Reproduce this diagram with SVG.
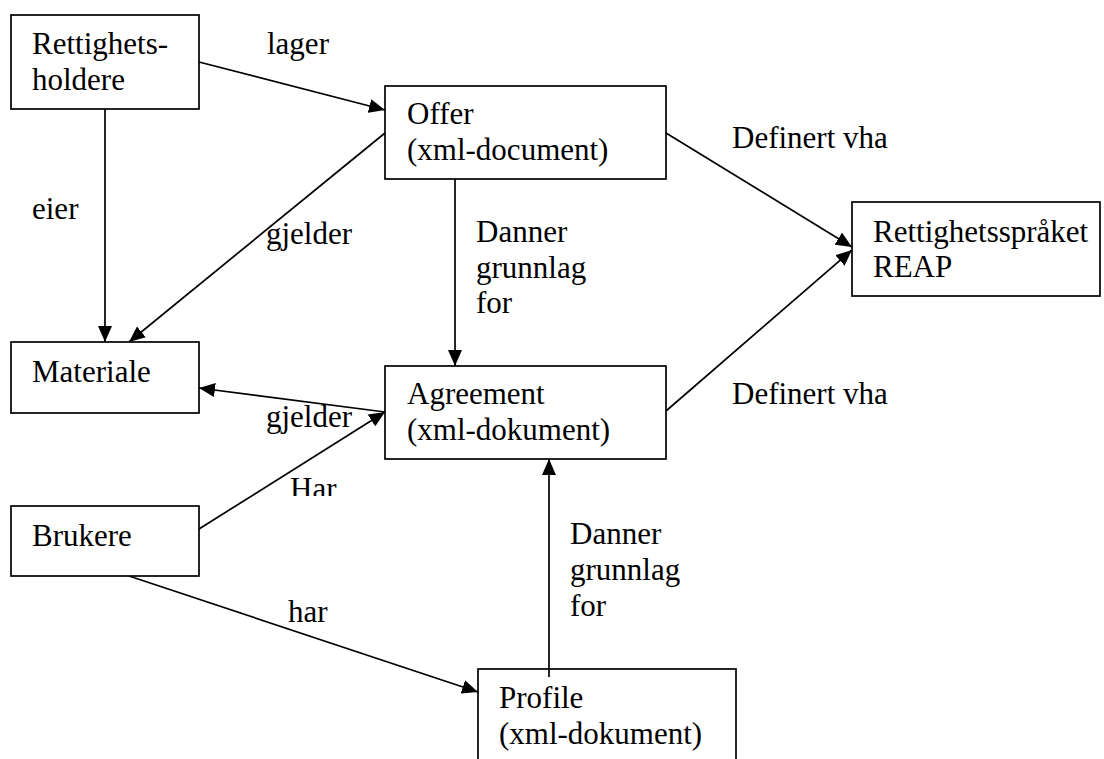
<svg xmlns="http://www.w3.org/2000/svg" width="1104" height="759" viewBox="0 0 1104 759" font-family="'Liberation Serif', 'Times New Roman', Tinos, 'DejaVu Serif', serif">
  <style>
    .box { fill: #ffffff; stroke: #000000; stroke-width: 1.7; }
    .lbl { font-family: 'Liberation Serif', 'Times New Roman', Tinos, 'DejaVu Serif', serif; font-size: 31px; fill: #000000; }
    .edge { stroke: #000000; stroke-width: 1.7; fill: none; }
    .arr { marker-end: url(#head); }
  </style>
  <defs>
    <marker id="head" markerUnits="userSpaceOnUse" markerWidth="16" markerHeight="14" refX="16" refY="7" orient="auto">
      <path d="M0,0 L16,7 L0,14 Z" fill="#000000"/>
    </marker>
    <clipPath id="harClip">
      <rect x="280" y="460" width="80" height="36"/>
    </clipPath>
  </defs>
  <rect width="1104" height="759" fill="#ffffff"/>

  <!-- connectors -->
  <g id="connectors">
    <line class="edge arr" x1="199" y1="62" x2="385" y2="110"/>
    <line class="edge arr" x1="105" y1="109" x2="105" y2="342"/>
    <line class="edge arr" x1="385" y1="133" x2="129" y2="342"/>
    <line class="edge arr" x1="455" y1="179" x2="455" y2="366"/>
    <line class="edge arr" x1="666" y1="133" x2="852" y2="247"/>
    <line class="edge arr" x1="666" y1="411" x2="852" y2="250"/>
    <line class="edge arr" x1="385" y1="412" x2="199" y2="388"/>
    <line class="edge arr" x1="199" y1="529" x2="385" y2="412"/>
    <line class="edge arr" x1="129" y1="576" x2="478" y2="692"/>
    <line class="edge arr" x1="549" y1="677" x2="549" y2="459"/>

    <text class="lbl" x="267" y="54">lager</text>
    <text class="lbl" x="32" y="219">eier</text>
    <text class="lbl" x="266" y="244">gjelder</text>
    <text class="lbl" x="476" y="242">Danner</text>
    <text class="lbl" x="476" y="278">grunnlag</text>
    <text class="lbl" x="476" y="313">for</text>
    <text class="lbl" x="732" y="148">Definert vha</text>
    <text class="lbl" x="732" y="404">Definert vha</text>
    <text class="lbl" x="266" y="427">gjelder</text>
    <text class="lbl" x="290" y="499" clip-path="url(#harClip)">Har</text>
    <text class="lbl" x="288" y="622">har</text>
    <text class="lbl" x="570" y="544">Danner</text>
    <text class="lbl" x="570" y="580">grunnlag</text>
    <text class="lbl" x="570" y="616">for</text>
  </g>

  <!-- nodes -->
  <g id="rettighetsholdere">
    <rect class="box" x="11" y="15" width="188" height="94"/>
    <text class="lbl" x="32" y="54">Rettighets-</text>
    <text class="lbl" x="32" y="90">holdere</text>
  </g>
  <g id="offer">
    <rect class="box" x="385" y="86" width="281" height="93"/>
    <text class="lbl" x="407" y="124">Offer</text>
    <text class="lbl" x="407" y="160">(xml-document)</text>
  </g>
  <g id="reap">
    <rect class="box" x="852" y="202" width="248" height="94"/>
    <text class="lbl" x="873" y="242">Rettighetsspråket</text>
    <text class="lbl" x="873" y="277">REAP</text>
  </g>
  <g id="materiale">
    <rect class="box" x="11" y="342" width="188" height="71"/>
    <text class="lbl" x="32" y="382">Materiale</text>
  </g>
  <g id="agreement">
    <rect class="box" x="385" y="366" width="281" height="93"/>
    <text class="lbl" x="407" y="404">Agreement</text>
    <text class="lbl" x="407" y="440">(xml-dokument)</text>
  </g>
  <g id="brukere">
    <rect class="box" x="11" y="506" width="188" height="70"/>
    <text class="lbl" x="32" y="546">Brukere</text>
  </g>
  <g id="profile">
    <rect class="box" x="478" y="669" width="258" height="120"/>
    <text class="lbl" x="499" y="708">Profile</text>
    <text class="lbl" x="499" y="744">(xml-dokument)</text>
  </g>
  <!-- the connector from Profile pokes slightly into its box -->
  <line class="edge" x1="549" y1="669" x2="549" y2="677"/>
</svg>
